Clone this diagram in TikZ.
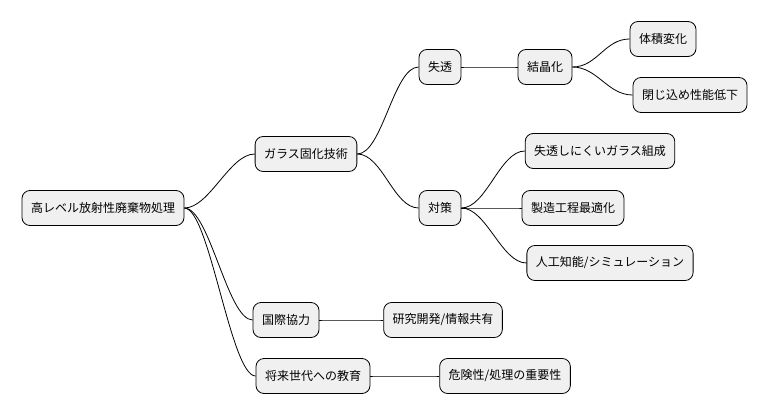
\documentclass[tikz,border=0pt]{standalone}
\usepackage{fontspec}
\setmainfont{Noto Sans CJK JP}
\begin{document}
\begin{tikzpicture}[x=1pt,y=-1pt,
  box/.style={draw=black,fill=black!6,rounded corners=8pt,minimum height=35pt,inner xsep=9pt,font=\fontsize{12}{14}\selectfont,line width=0.8pt},
  link/.style={draw=black,line width=0.8pt}]
\useasboundingbox (0,0) rectangle (768,415);
\node[box] (r) at (103,208) {高レベル放射性廃棄物処理};
\node[box] (g) at (306,154) {ガラス固化技術};
\node[box] (s) at (440,67) {失透};
\node[box] (k) at (545,67) {結晶化};
\node[box] (t) at (663,39) {体積変化};
\node[box] (h) at (690,95) {閉じ込め性能低下};
\node[box] (c) at (440,208) {対策};
\node[box] (c1) at (600,151) {失透しにくいガラス組成};
\node[box] (c2) at (573,208) {製造工程最適化};
\node[box] (c3) at (610,263) {人工知能/シミュレーション};
\node[box] (i) at (286,320) {国際協力};
\node[box] (i1) at (443,320) {研究開発/情報共有};
\node[box] (e) at (313,376) {将来世代への教育};
\node[box] (e1) at (505,376) {危険性/処理の重要性};
\foreach \a/\b in {r/g,r/i,r/e,g/s,g/c,s/k,k/t,k/h,c/c1,c/c2,c/c3,i/i1,e/e1}
  \draw[link] (\a.east) .. controls +(25,0) and +(-25,0) .. (\b.west);
\end{tikzpicture}
\end{document}
